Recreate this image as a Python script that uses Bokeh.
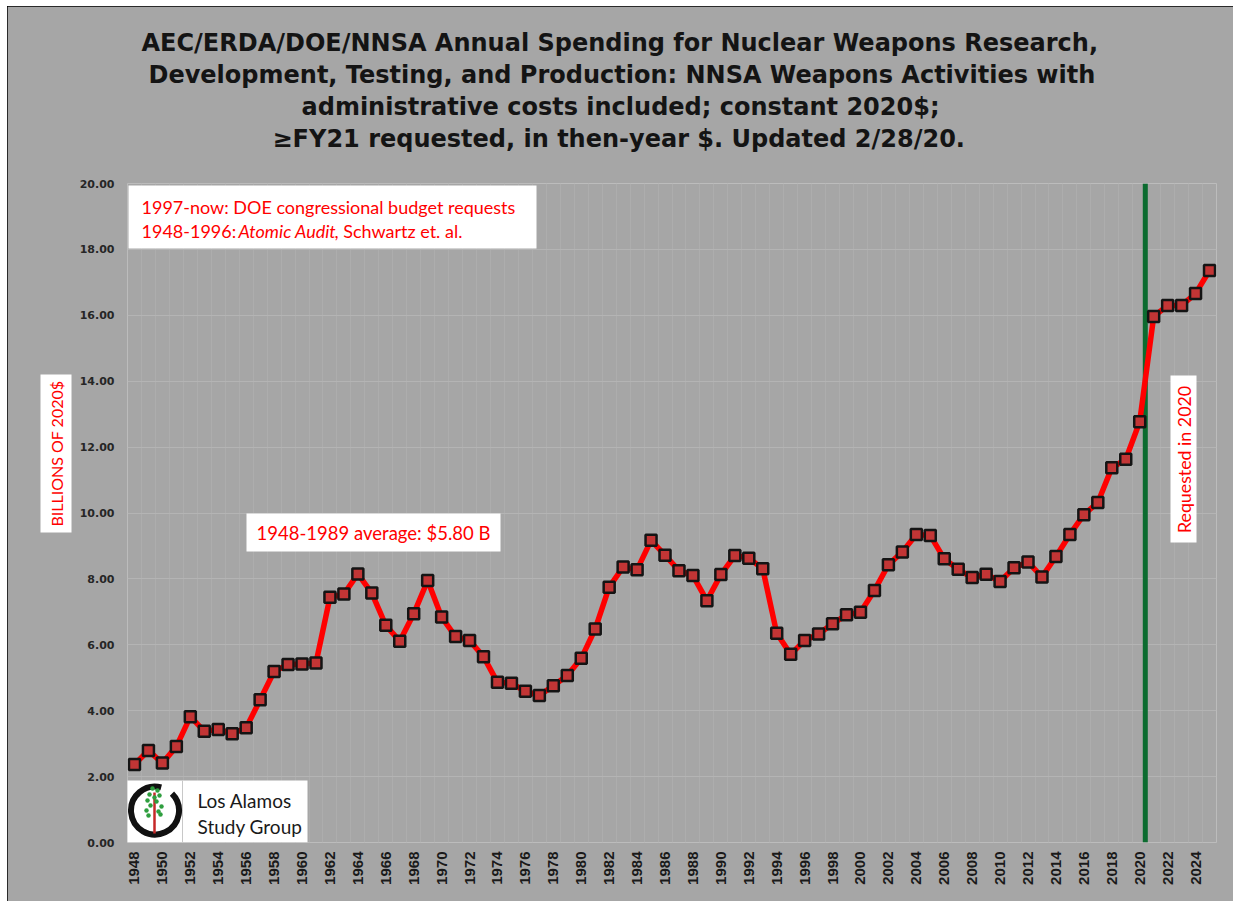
import math
from bokeh.plotting import figure
from bokeh.models import Range1d, FixedTicker, NumeralTickFormatter, Label, Span, Title
from bokeh.embed import file_html
from bokeh.resources import INLINE

# ---------------- data ----------------
years = list(range(1948, 2026))
spending = [2.37, 2.79, 2.41, 2.91, 3.82, 3.38, 3.43, 3.30, 3.48, 4.33,
            5.19, 5.40, 5.42, 5.45, 7.44, 7.54, 8.15, 7.57, 6.59, 6.11,
            6.94, 7.95, 6.84, 6.25, 6.13, 5.64, 4.86, 4.83, 4.59, 4.46,
            4.76, 5.07, 5.59, 6.48, 7.75, 8.36, 8.28, 9.17, 8.72, 8.25,
            8.10, 7.34, 8.13, 8.71, 8.63, 8.31, 6.35, 5.71, 6.13, 6.33,
            6.64, 6.91, 6.99, 7.65, 8.43, 8.82, 9.35, 9.32, 8.61, 8.29,
            8.04, 8.14, 7.92, 8.34, 8.51, 8.06, 8.68, 9.35, 9.95, 10.32,
            11.37, 11.63, 12.77, 15.96, 16.30, 16.30, 16.66, 17.36]
x_ticks = list(range(1948, 2025, 2))
y_ticks = list(range(0, 21, 2))
request_marker_year = 2020.4

title_lines = [
    "AEC/ERDA/DOE/NNSA Annual Spending for Nuclear Weapons Research,",
    "Development, Testing, and Production: NNSA Weapons Activities with",
    "administrative costs included; constant 2020$;",
    "\u2265FY21 requested, in then-year $. Updated 2/28/20.",
]
# left offsets (px from the plot frame) that centre each title line on the page
title_offsets = [14, 21, 174, 145]

# ---------------- layout (picture px) ----------------
OX, OY = 7, 6                 # figure offset on the page
W, H = 1226, 895
FX0, FX1, FY0, FY1 = 127, 1216, 183, 842   # plot frame in picture px
XR = (1947.5, 2025.5)
YR = (0, 20)


def X(px):
    return XR[0] + (px - FX0) * (XR[1] - XR[0]) / (FX1 - FX0)


def Y(py):
    return YR[0] + (FY1 - py) * (YR[1] - YR[0]) / (FY1 - FY0)


BG = "#A6A6A6"
RED = "#FF0000"
p = figure(width=W, height=H, x_range=Range1d(*XR), y_range=Range1d(*YR),
           output_backend="svg", toolbar_location=None,
           min_border_left=FX0 - OX, min_border_right=(OX + W) - FX1,
           min_border_top=FY0 - OY, min_border_bottom=(OY + H) - FY1)
p.margin = (OY, 0, 0, OX)
p.background_fill_color = BG
p.border_fill_color = BG
p.outline_line_color = None
p.styles = {"outline": "2px solid #000000", "outline-offset": "-2px"}

# axes
p.xaxis.ticker = FixedTicker(ticks=x_ticks)
p.xaxis.major_label_orientation = math.pi / 2
p.xaxis.major_label_text_font = "Liberation Sans"
p.xaxis.major_label_text_font_style = "bold"
p.xaxis.major_label_text_font_size = "15px"
p.xaxis.major_label_text_color = "#1a1a1a"
p.xaxis.major_label_standoff = 3
p.yaxis.ticker = FixedTicker(ticks=y_ticks)
p.yaxis.formatter = NumeralTickFormatter(format="0.00")
p.yaxis.major_label_text_font = "DejaVu Sans"
p.yaxis.major_label_text_font_style = "bold"
p.yaxis.major_label_text_font_size = "11px"
p.yaxis.major_label_text_color = "#262626"
p.yaxis.major_label_standoff = 7
for ax in (p.xaxis, p.yaxis):
    ax.axis_line_color = None
    ax.major_tick_line_color = None
    ax.minor_tick_line_color = None

# grid
p.ygrid.ticker = FixedTicker(ticks=y_ticks)
p.ygrid.grid_line_color = "#B4B4B4"
p.xgrid.ticker = FixedTicker(ticks=[y + 0.5 for y in range(1947, 2026)])
p.xgrid.grid_line_color = "#ADADAD"

# green "requested" divider
p.add_layout(Span(location=request_marker_year, dimension="height",
                  line_color="#0B6B2F", line_width=5, level="underlay"))

# series
p.line(years, spending, line_color=RED, line_width=5.5, line_join="round")
p.scatter(years, spending, marker="square", size=11, fill_color="#C23535",
          line_color="#141414", line_width=2.5)

# ---------------- title (stacked panels, nearest the frame first) ----------------
TFONT = dict(text_font="DejaVu Sans", text_font_style="bold",
             text_font_size="24px", text_color="#141414")
p.add_layout(Title(text="\u00a0", align="center", standoff=0, **TFONT), "above")   # spacer
for txt, off in zip(reversed(title_lines), reversed(title_offsets)):
    p.add_layout(Title(text=txt, align="left", offset=off, standoff=2, **TFONT), "above")

# ---------------- y axis title ----------------
p.add_layout(Title(text="BILLIONS OF 2020$", align="left", offset=FY1 - 532,
                   text_font="Lato", text_font_style="normal", text_font_size="16px",
                   text_color=RED, background_fill_color="white", background_fill_alpha=1,
                   padding=6, standoff=10), "left")

# ---------------- white boxes ----------------
box_l = [X(128), X(246), X(1170), X(126)]
box_r = [X(536), X(500), X(1196), X(307)]
box_t = [Y(185), Y(513), Y(375), Y(780)]
box_b = [Y(248), Y(551), Y(542), Y(842)]
p.quad(left=box_l, right=box_r, top=box_t, bottom=box_b, fill_color="white", line_color=None)

# source box texts
p.add_layout(Label(x=X(141), y=Y(206), text="1997-now: DOE congressional budget requests",
                   text_align="left", text_baseline="middle", text_font="Lato",
                   text_font_size="18px", text_color=RED))
p.add_layout(Label(x=X(141), y=Y(230), text="1948-1996:",
                   text_align="left", text_baseline="middle", text_font="Lato",
                   text_font_size="18px", text_color=RED))
p.add_layout(Label(x=X(238), y=Y(230), text="Atomic Audit",
                   text_align="left", text_baseline="middle", text_font="Lato",
                   text_font_style="italic", text_font_size="18px", text_color=RED))
p.add_layout(Label(x=X(334), y=Y(230), text=", Schwartz et. al.",
                   text_align="left", text_baseline="middle", text_font="Lato",
                   text_font_size="18px", text_color=RED))

# average box text
p.add_layout(Label(x=X(373), y=Y(532), text="1948-1989 average: $5.80 B",
                   text_align="center", text_baseline="middle", text_font="Lato",
                   text_font_size="18.5px", text_color=RED))

# requested text
p.add_layout(Label(x=X(1183), y=Y(459), text="Requested in 2020", angle=math.pi / 2,
                   text_align="center", text_baseline="middle", text_font="Lato",
                   text_font_size="17.8px", text_color=RED))

# ---------------- logo ----------------
p.segment(x0=[X(182)], y0=[Y(780)], x1=[X(182)], y1=[Y(842)], line_color="#C8C8C8", line_width=1)
p.arc(x=[X(154.5)], y=[Y(810)], radius=24, radius_units="screen",
      start_angle=math.radians(75), end_angle=math.radians(405),
      line_color="#111111", line_width=6)
p.segment(x0=[X(154)], y0=[Y(833)], x1=[X(154)], y1=[Y(792)], line_color="#C62828", line_width=2.5)
leaf_dx = [-2, 3, -5, 5, -7, 2, -4, 7, -8, 4, 0, -6, 6]
leaf_dy = [-18, -16, -12, -11, -6, -5, -1, 0, 4, 5, -9, 9, 8]
p.scatter([X(154 + d) for d in leaf_dx], [Y(806 + d) for d in leaf_dy], marker="circle",
          size=4.5, fill_color="#2E9E3E", line_color=None)
p.add_layout(Label(x=X(197), y=Y(800), text="Los Alamos", text_align="left", text_baseline="middle",
                   text_font="Lato", text_font_size="19px", text_color="#1a1a1a"))
p.add_layout(Label(x=X(197), y=Y(826), text="Study Group", text_align="left", text_baseline="middle",
                   text_font="Lato", text_font_size="19px", text_color="#1a1a1a"))

open("out.html", "w").write(file_html(p, INLINE))
